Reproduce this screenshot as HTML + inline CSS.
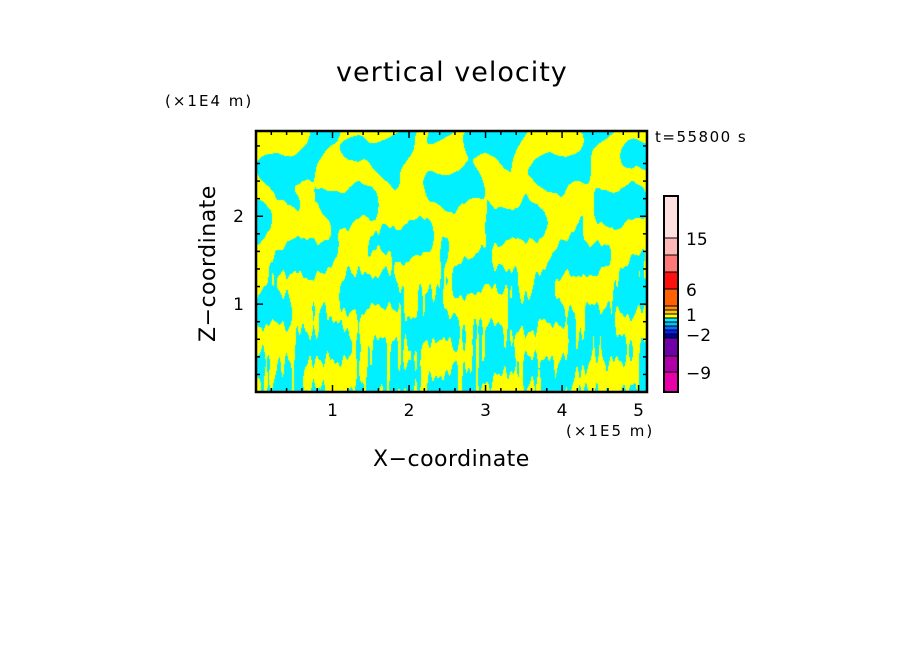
<!DOCTYPE html>
<html><head><meta charset="utf-8"><style>
body{margin:0;background:#fff;width:904px;height:654px;overflow:hidden;position:relative;font-family:"DejaVu Sans","Liberation Sans",sans-serif}
.t{position:absolute;color:#000;white-space:nowrap}
</style></head><body>
<div class="t" style="left:336px;top:57px;font-size:27px;letter-spacing:1px">vertical velocity</div>
<div class="t" style="left:165px;top:92px;font-size:15px;letter-spacing:2px">(×1E4 m)</div>
<div class="t" style="left:655px;top:128px;font-size:15px;letter-spacing:1.5px">t=55800 s</div>
<div class="t" style="left:566px;top:422px;font-size:15px;letter-spacing:2px">(×1E5 m)</div>
<div class="t" style="left:373px;top:447px;font-size:22px;letter-spacing:0.5px">X−coordinate</div>
<div class="t" style="left:196px;top:342px;font-size:22px;letter-spacing:0.5px;transform:rotate(-90deg);transform-origin:0 0">Z−coordinate</div>
<canvas id="field" width="391" height="261" style="position:absolute;left:256px;top:131px"></canvas>
<svg id="ov" width="904" height="654" style="position:absolute;left:0;top:0"></svg>
<script>
const xTicks=[1,2,3,4,5];
const zTicks=[1,2];
const cbLevels=[-12,-9,-6,-3,-2,-1.5,-1,-0.5,0,1,2,3,6,9,12,15,20];
const cbColors=["#e800a8","#b000a8","#7000a8","#0000a0","#0020ff","#0070ff","#00c0ff","#00f0ff","#ffff00","#ffc800","#ff9000","#ff6000","#ff1010","#ff7878","#ffb8b8","#ffe0e0"];
const cbLabels=[-9,-2,1,6,15];
const X0=256,X1=647,Y0=131,Y1=392,xmax=5.11,zmax=2.97;
const sx=v=>X0+v/xmax*(X1-X0), sz=v=>Y1-v/zmax*(Y1-Y0);
const c=document.getElementById('field').getContext('2d');
const W=391,H=261;
function f(x,y){const h=y/H;let v=0;
v+=Math.sin(x*0.07+y*0.06)*0.9+Math.sin(x*0.045-y*0.09+1.3)*0.8+Math.sin(x*0.16+Math.sin(y*0.05)*2.5)*0.6;
v+=Math.sin(y*0.13+x*0.02)*0.6+Math.sin(x*0.33+y*0.03+2)*0.6*h;
v+=Math.sin(x*0.71+1.7)*0.7*h*h+Math.sin(x*1.13+y*0.015)*0.5*h*h+Math.sin(x*0.53+0.4)*0.4*h;
return v;}
const img=c.createImageData(W,H);
for(let y=0;y<H;y++)for(let x=0;x<W;x++){const v=f(x,y);const i=(y*W+x)*4;
if(v>0.05){img.data[i]=255;img.data[i+1]=255;img.data[i+2]=0}else{img.data[i]=0;img.data[i+1]=240;img.data[i+2]=255}img.data[i+3]=255;}
c.putImageData(img,0,0);
const ns='http://www.w3.org/2000/svg',ov=document.getElementById('ov');
function el(t,a){const e=document.createElementNS(ns,t);for(const k in a)e.setAttribute(k,a[k]);ov.appendChild(e);return e;}
let r=el('rect',{x:X0,y:Y0,width:X1-X0,height:Y1-Y0,fill:'none',stroke:'#000','stroke-width':2.5});


for(let v=0.2;v<xmax;v+=0.2){const x=sx(v),L=Math.abs(v-Math.round(v))<0.01?7:4;
el('line',{x1:x,y1:Y1,x2:x,y2:Y1-L,stroke:'#000','stroke-width':1.5});el('line',{x1:x,y1:Y0,x2:x,y2:Y0+L,stroke:'#000','stroke-width':1.5});}
for(let v=0.2;v<zmax;v+=0.2){const y=sz(v),L=Math.abs(v-Math.round(v))<0.01?7:4;
el('line',{x1:X0,y1:y,x2:X0+L,y2:y,stroke:'#000','stroke-width':1.5});el('line',{x1:X1,y1:y,x2:X1-L,y2:y,stroke:'#000','stroke-width':1.5});}
xTicks.forEach(v=>{const t=el('text',{x:sx(v),y:416,'text-anchor':'middle','font-size':17,'font-family':'DejaVu Sans,sans-serif'});t.textContent=v;

});
zTicks.forEach(v=>{const t=el('text',{x:244,y:sz(v)+6,'text-anchor':'end','font-size':17,'font-family':'DejaVu Sans,sans-serif'});t.textContent=v;

});
// colorbar: non-uniform segment heights as drawn in reference
const CB0=392,CB1=196,cx=664,cw=14;
const segH=[20,16,18,4,4,4,4,4,4,4,4,17,17,17,17,42];
const tot=segH.reduce((a,b)=>a+b,0);
const bounds=[CB0];segH.forEach(h=>bounds.push(bounds[bounds.length-1]-h/tot*(CB0-CB1)));
cbColors.forEach((col,i)=>{const s=el('rect',{x:cx,y:bounds[i+1],width:cw,height:bounds[i]-bounds[i+1],fill:col,stroke:'#000','stroke-width':1});

});
el('rect',{x:cx,y:CB1,width:cw,height:CB0-CB1,fill:'none',stroke:'#000','stroke-width':2});
cbLabels.forEach(v=>{const i=cbLevels.indexOf(v);const y=bounds[i];const t=el('text',{x:686,y:y+7,'font-size':17,'font-family':'DejaVu Sans,sans-serif'});t.textContent=v<0?'−'+(-v):v;

});
</script>
</body></html>
